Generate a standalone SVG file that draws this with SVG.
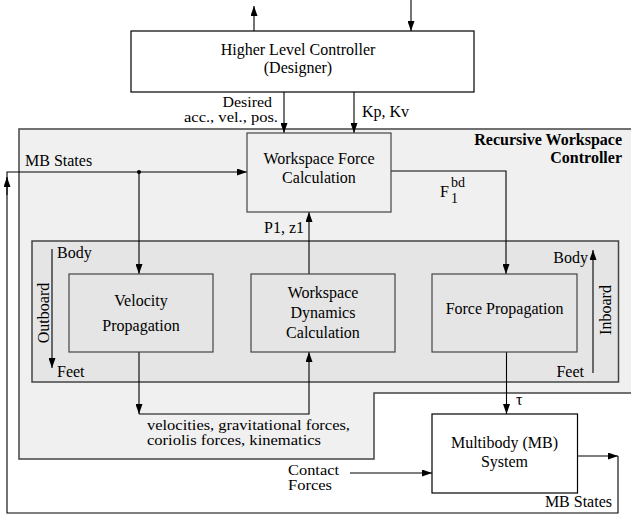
<svg xmlns="http://www.w3.org/2000/svg" width="631" height="517" viewBox="0 0 631 517">
<style>
text{font-family:"Liberation Serif","Times New Roman",serif;font-size:16px;fill:#000}
.c{text-anchor:middle}
.e{text-anchor:end}
.b{font-weight:bold}
.s{font-size:14px}
.t{font-size:15px}
.box{fill:#fff;stroke:#000;stroke-width:1.2}
.g1{fill:#f0f0f0;stroke:#444;stroke-width:1.5}
.g2{fill:#e5e5e5;stroke:#444;stroke-width:1.5}
.ln{fill:none;stroke:#000;stroke-width:1.1}
</style>
<defs>
<marker id="ah" markerUnits="userSpaceOnUse" markerWidth="10" markerHeight="7" refX="10" refY="3.5" orient="auto">
<path d="M0,0 L10,3.5 L0,7 z" fill="#000"/>
</marker>
</defs>
<g id="rwc-region">
<path class="g1" d="M19,129 H640 V393 H374 V459 H19 Z"/>
<text class="e b" x="622" y="145">Recursive Workspace</text>
<text class="e b" x="622" y="163">Controller</text>
</g>
<g id="recursion-region">
<rect class="g2" x="32" y="241" width="586.5" height="141"/>
<text x="57" y="258">Body</text>
<text x="57" y="377">Feet</text>
<text class="c" transform="translate(49,313) rotate(-90)">Outboard</text>
<text class="e" x="588" y="263">Body</text>
<text class="e" x="584" y="377">Feet</text>
<text class="c" transform="translate(611,310) rotate(-90)">Inboard</text>
</g>
<g id="connectors">
<path class="ln" d="M254,31 V6" marker-end="url(#ah)"/>
<path class="ln" d="M411,0 V31" marker-end="url(#ah)"/>
<path class="ln" d="M284,92 V133" marker-end="url(#ah)"/>
<path class="ln" d="M354,92 V133" marker-end="url(#ah)"/>
<path class="ln" d="M618,456 V513 H7 V172 H247" marker-end="url(#ah)"/>
<path class="ln" d="M7,195 V177" marker-end="url(#ah)"/>
<circle cx="139" cy="172" r="2" fill="#000"/>
<path class="ln" d="M139,172 V274" marker-end="url(#ah)"/>
<path class="ln" d="M391,171 H506 V274" marker-end="url(#ah)"/>
<path class="ln" d="M309,274 V212" marker-end="url(#ah)"/>
<path class="ln" d="M139,352 V414" marker-end="url(#ah)"/>
<path class="ln" d="M139,414 H309 V352" marker-end="url(#ah)"/>
<path class="ln" d="M506.5,352 V414" marker-end="url(#ah)"/>
<path class="ln" d="M350,473 H432" marker-end="url(#ah)"/>
<path class="ln" d="M577.5,456 H618" marker-end="url(#ah)"/>
<path class="ln" d="M52,249 V368" marker-end="url(#ah)"/>
<path class="ln" d="M593,373 V250" marker-end="url(#ah)"/>
</g>
<g id="labels">
<text class="t" x="222.5" y="107" textLength="49.5" lengthAdjust="spacingAndGlyphs">Desired</text>
<text class="t" x="184" y="122" textLength="94" lengthAdjust="spacingAndGlyphs">acc., vel., pos.</text>
<text x="362" y="117">Kp, Kv</text>
<text x="25" y="166">MB States</text>
<text x="440" y="197">F</text>
<text class="s" x="451" y="187">bd</text>
<text class="s" x="451" y="203">1</text>
<text class="e" x="304" y="233">P1, z1</text>
<text class="t" x="147" y="430" textLength="203" lengthAdjust="spacingAndGlyphs">velocities, gravitational forces,</text>
<text class="t" x="147" y="445" textLength="174" lengthAdjust="spacingAndGlyphs">coriolis forces, kinematics</text>
<text x="516" y="405">τ</text>
<text class="t" x="288" y="475" textLength="51" lengthAdjust="spacingAndGlyphs">Contact</text>
<text class="t" x="288" y="490" textLength="44" lengthAdjust="spacingAndGlyphs">Forces</text>
<text class="e" x="612" y="507">MB States</text>
</g>
<g id="hlc">
<rect class="box" x="131" y="31" width="343" height="61"/>
<text class="c" x="298" y="55">Higher Level Controller</text>
<text class="c" x="298" y="73">(Designer)</text>
</g>
<g id="wfc">
<rect x="247" y="133" width="144" height="79" fill="#f0f0f0" stroke="#444" stroke-width="1.2"/>
<text class="c" x="319" y="164">Workspace Force</text>
<text class="c" x="319" y="183">Calculation</text>
</g>
<g id="velocity">
<rect x="69" y="274" width="144" height="78" fill="#e5e5e5" stroke="#444" stroke-width="1.2"/>
<text class="c" x="141" y="306">Velocity</text>
<text class="c" x="141" y="331">Propagation</text>
</g>
<g id="wdc">
<rect x="251" y="274" width="144" height="78" fill="#e5e5e5" stroke="#444" stroke-width="1.2"/>
<text class="c" x="323" y="298">Workspace</text>
<text class="c" x="323" y="318">Dynamics</text>
<text class="c" x="323" y="338">Calculation</text>
</g>
<g id="force">
<rect x="432" y="274" width="145" height="78" fill="#e5e5e5" stroke="#444" stroke-width="1.2"/>
<text class="c" x="504.5" y="314">Force Propagation</text>
</g>
<g id="mb">
<rect class="box" x="432" y="414" width="145.5" height="79"/>
<text class="c" x="504.5" y="448">Multibody (MB)</text>
<text class="c" x="504.5" y="467">System</text>
</g>
</svg>
